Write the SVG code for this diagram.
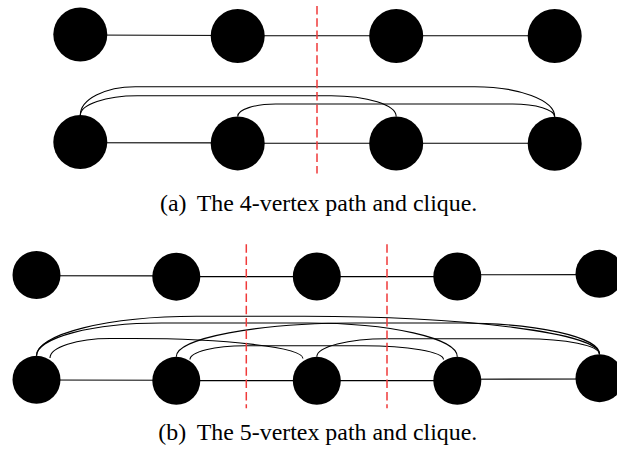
<svg xmlns="http://www.w3.org/2000/svg" width="617" height="454" viewBox="0 0 617 454">
  <style>
    .edge { stroke: #000; stroke-width: 1.1; fill: none; }
    .cut { stroke: #f03a3a; stroke-width: 1.5; stroke-dasharray: 8.5 3.8; fill: none; }
    .va { fill: #000; }
    .cap { font-family: "Liberation Serif", "Times New Roman", serif; font-size: 23.9px; fill: #000; }
  </style>

  <!-- connectors: path edges, clique arcs and cut lines -->
  <g id="connectors">
    <!-- (a) 4-vertex path -->
    <line class="edge" x1="80.3" y1="35" x2="237.7" y2="35.5"/>
    <line class="edge" x1="237.7" y1="35.7" x2="396.2" y2="35.7"/>
    <line class="edge" x1="396.2" y1="35.7" x2="554.7" y2="35.7"/>
    <!-- (a) 4-vertex clique: path edges -->
    <line class="edge" x1="80.3" y1="142.7" x2="237.7" y2="142.9"/>
    <line class="edge" x1="237.7" y1="143.3" x2="396.2" y2="143.3"/>
    <line class="edge" x1="396.2" y1="143.3" x2="554.7" y2="143.3"/>
    <!-- (a) 4-vertex clique: long arcs -->
    <path class="edge" d="M80.3 115.2 A55 28.5 0 0 1 135.3 86.7 L474.7 86.7 A80 30 0 0 1 554.7 116.7"/>
    <path class="edge" d="M80.3 115.2 A57 19.5 0 0 1 137.3 95.7 L331.2 95.7 A65 20.8 0 0 1 396.2 116.5"/>
    <path class="edge" d="M237.7 116.4 A38 12.4 0 0 1 275.7 104 L512.7 104 A42 12.7 0 0 1 554.7 116.7"/>
    <line class="cut" x1="317" y1="6" x2="317" y2="173.5"/>

    <!-- (b) 5-vertex path -->
    <line class="edge" x1="36.5" y1="275.7" x2="176.3" y2="275.9"/>
    <line class="edge" x1="176.3" y1="276.6" x2="316.8" y2="276.6"/>
    <line class="edge" x1="316.8" y1="276.6" x2="457.3" y2="276.6"/>
    <line class="edge" x1="457.3" y1="274.8" x2="599.5" y2="274.6"/>
    <!-- (b) 5-vertex clique: path edges -->
    <line class="edge" x1="36.5" y1="380" x2="176.3" y2="380.2"/>
    <line class="edge" x1="176.3" y1="380.6" x2="316.8" y2="380.6"/>
    <line class="edge" x1="316.8" y1="380.6" x2="457.3" y2="380.6"/>
    <line class="edge" x1="457.3" y1="379.2" x2="599.5" y2="379"/>
    <!-- (b) 5-vertex clique: long arcs -->
    <path class="edge" d="M36.5 355.8 A160 39.5 0 0 1 196.5 316.3 L304.5 316.3 A295 37.9 0 0 1 599.5 354.2"/>
    <path class="edge" d="M36.5 355.8 A125 32.8 0 0 1 161.5 323 L307.3 323 A150 33.8 0 0 1 457.3 356.8"/>
    <path class="edge" d="M50 358 A60 19.5 0 0 1 110 338.5 L133 338.5 A170 20 0 0 1 303 358.5"/>
    <path class="edge" d="M176.3 356.8 A180 33.8 0 0 1 356.3 323 L459.5 323 A140 31.2 0 0 1 599.5 354.2"/>
    <path class="edge" d="M190 359.5 A55 13.8 0 0 1 245 345.7 L363.5 345.7 A80 13.8 0 0 1 443.5 359.5"/>
    <path class="edge" d="M316.8 356.8 A70 18.1 0 0 1 386.8 338.7 L524.5 338.7 A75 15.5 0 0 1 599.5 354.2"/>
    <line class="cut" x1="246.3" y1="244.3" x2="246.3" y2="408.3"/>
    <line class="cut" x1="387" y1="244.3" x2="387" y2="408.3"/>
  </g>

  <!-- (a) vertices -->
  <g id="a-path-1"><circle class="va" cx="80.3" cy="34.5" r="27"/></g>
  <g id="a-path-2"><circle class="va" cx="237.7" cy="36" r="27"/></g>
  <g id="a-path-3"><circle class="va" cx="396.2" cy="36" r="27"/></g>
  <g id="a-path-4"><circle class="va" cx="554.7" cy="36" r="27"/></g>
  <g id="a-clique-1"><circle class="va" cx="80.3" cy="142" r="27"/></g>
  <g id="a-clique-2"><circle class="va" cx="237.7" cy="143.4" r="27"/></g>
  <g id="a-clique-3"><circle class="va" cx="396.2" cy="143.5" r="27"/></g>
  <g id="a-clique-4"><circle class="va" cx="554.7" cy="143.7" r="27"/></g>

  <!-- (b) vertices -->
  <g id="b-path-1"><circle class="va" cx="36.5" cy="275" r="24"/></g>
  <g id="b-path-2"><circle class="va" cx="176.3" cy="276.7" r="24"/></g>
  <g id="b-path-3"><circle class="va" cx="316.8" cy="276.5" r="24"/></g>
  <g id="b-path-4"><circle class="va" cx="457.3" cy="276.5" r="24"/></g>
  <g id="b-path-5"><circle class="va" cx="599.5" cy="273.8" r="24"/></g>
  <g id="b-clique-1"><circle class="va" cx="36.5" cy="379.8" r="24"/></g>
  <g id="b-clique-2"><circle class="va" cx="176.3" cy="380.8" r="24"/></g>
  <g id="b-clique-3"><circle class="va" cx="316.8" cy="380.8" r="24"/></g>
  <g id="b-clique-4"><circle class="va" cx="457.3" cy="380.8" r="24"/></g>
  <g id="b-clique-5"><circle class="va" cx="599.5" cy="378.2" r="24"/></g>

  <!-- captions -->
  <g id="caption-a">
    <text class="cap" x="160" y="211">(a)</text>
    <text class="cap" x="196.7" y="211">The 4-vertex path and clique.</text>
  </g>
  <g id="caption-b">
    <text class="cap" x="158.3" y="439.5">(b)</text>
    <text class="cap" x="196.7" y="439.5">The 5-vertex path and clique.</text>
  </g>
</svg>
